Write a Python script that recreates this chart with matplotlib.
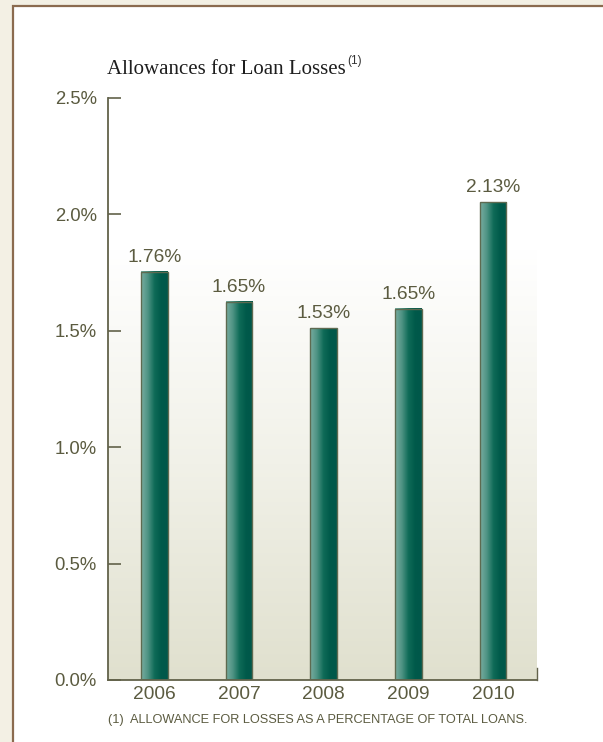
import matplotlib
matplotlib.use("Agg")
import matplotlib.pyplot as plt
import numpy as np
from matplotlib.colors import LinearSegmentedColormap
from matplotlib.patches import Rectangle

# ---- data ----
years = ['2006', '2007', '2008', '2009', '2010']
bar_heights = [1.753, 1.624, 1.512, 1.594, 2.053]
bar_labels = ['1.76%', '1.65%', '1.53%', '1.65%', '2.13%']
y_ticks = [0.0, 0.5, 1.0, 1.5, 2.0, 2.5]

# ---- style ----
olive = '#5b5b40'
axis_col = '#62624a'
bar_cmap = LinearSegmentedColormap.from_list(
    'teal', ['#7aada1', '#4f9484', '#0f6b58', '#005a4a', '#00574a'])
bg_cmap = LinearSegmentedColormap.from_list('bg', ['#e0e0ce', '#f1f1e8', '#ffffff'])

fig = plt.figure(figsize=(6.03, 7.42), dpi=100, facecolor='#f3f0e4')

# white panel with brown border
fig.patches.append(Rectangle((13 / 603, -0.1), 2, (742 - 6) / 742 + 0.1,
                             transform=fig.transFigure, facecolor='white',
                             edgecolor='#8b6b4f', lw=1.6, zorder=-10))

ax = fig.add_axes([108 / 603, 62 / 742, 429 / 603, 582 / 742])
ax.set_facecolor('none')

x = np.arange(len(years))
width = 0.313
xmin, xmax = -0.548, 4.52
ax.set_xlim(xmin, xmax)
ax.set_ylim(0, 2.5)

# background gradient (white at top fading to beige)
grad = np.linspace(0, 1, 256).reshape(-1, 1)
ax.imshow(grad, extent=(xmin, xmax, 0, 1.85), origin='lower', aspect='auto',
          cmap=bg_cmap, zorder=0)

# bars with horizontal gradient
hgrad = np.linspace(0, 1, 256).reshape(1, -1)
for xi, h in zip(x, bar_heights):
    ax.imshow(hgrad, extent=(xi - width / 2, xi + width / 2, 0, h), origin='lower',
              aspect='auto', cmap=bar_cmap, zorder=2)
bars = ax.bar(x, bar_heights, width, facecolor='none', edgecolor='#5e6a50',
              linewidth=1.0, zorder=3)

for xi, h, lab in zip(x, bar_heights, bar_labels):
    ax.annotate(lab, xy=(xi, h), xytext=(0, 10.5), textcoords='offset points',
                ha='center', va='center', fontsize=13.8, color=olive,
                family='Liberation Sans')

# axes styling
ax.spines['top'].set_visible(False)
for s in ['left', 'bottom']:
    ax.spines[s].set_color(axis_col)
    ax.spines[s].set_linewidth(1.3)
ax.spines['right'].set_color(axis_col)
ax.spines['right'].set_linewidth(1.0)
ax.spines['right'].set_bounds(0, 0.05)

ax.set_yticks(y_ticks)
ax.set_yticklabels([f'{v:.1f}%' for v in y_ticks])
ax.tick_params(axis='y', direction='in', length=9.4, width=1.2, color=axis_col,
               pad=8, labelsize=13.3, labelcolor=olive)
ax.set_xticks(x)
ax.set_xticklabels(years)
ax.tick_params(axis='x', length=0, pad=4, labelsize=13.8, labelcolor=olive)
for t in ax.get_xticklabels() + ax.get_yticklabels():
    t.set_family('Liberation Sans')

# title with superscript note marker, and footnote
title = fig.text(107 / 603, 1 - 74 / 742, 'Allowances for Loan Losses', fontsize=15,
                 family='Liberation Serif', color='#1e1e1e', ha='left', va='baseline')
renderer = fig.canvas.get_renderer()
tb = title.get_window_extent(renderer).transformed(fig.transFigure.inverted())
fig.text(tb.x1 + 1 / 603, 1 - 61 / 742, '(1)', fontsize=8.5, family='Liberation Sans',
         color='#333333', ha='left', va='center')
fig.text(108 / 603, 1 - 720 / 742,
         '(1)  ALLOWANCE FOR LOSSES AS A PERCENTAGE OF TOTAL LOANS.',
         fontsize=9.2, family='Liberation Sans', color=olive, ha='left', va='center')

fig.savefig('out.png', dpi=100, facecolor=fig.get_facecolor())
